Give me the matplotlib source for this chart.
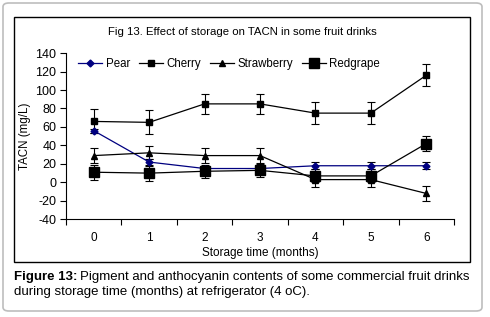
import matplotlib
matplotlib.use("Agg")
import matplotlib.pyplot as plt
from matplotlib.patches import FancyBboxPatch, Rectangle
from matplotlib.lines import Line2D

months = [0, 1, 2, 3, 4, 5, 6]
pear = [56, 22, 15, 15, 18, 18, 18]
pear_err = [2, 3, 2, 2, 4, 4, 4]
cherry = [66, 65, 85, 85, 75, 75, 116]
cherry_err = [13, 13, 11, 11, 12, 12, 12]
strawberry = [29, 32, 29, 29, 3, 3, -12]
strawberry_err = [8, 7, 8, 8, 8, 8, 8]
redgrape = [11, 10, 12, 13, 7, 7, 42]
redgrape_err = [8, 8, 7, 7, 7, 7, 8]
yticks = [-40, -20, 0, 20, 40, 60, 80, 100, 120, 140]

plt.rcParams['font.family'] = ['Liberation Sans', 'DejaVu Sans']
plt.rcParams['axes.unicode_minus'] = False

W, H = 490, 317
fig = plt.figure(figsize=(W / 100, H / 100), dpi=100)
fig.patch.set_facecolor('white')

def fx(px):
    return px / W

def fy(py):
    return 1 - py / H

# outer rounded box
fig.patches.append(FancyBboxPatch((fx(3), fy(311)), fx(479), 308 / H,
                                  boxstyle="round,pad=0,rounding_size=0.012",
                                  transform=fig.transFigure, fill=False,
                                  edgecolor='#bdbdbd', linewidth=1.2))
# inner chart frame
fig.patches.append(Rectangle((fx(14), fy(262)), fx(456), 245 / H,
                             transform=fig.transFigure, fill=False,
                             edgecolor='black', linewidth=1.0))

ax = fig.add_axes([fx(66), fy(219.3), fx(454 - 66), (219.3 - 53.1) / H])
ax.set_xlim(-0.5, 6.5)
ax.set_ylim(-40, 140)
ax.set_yticks(yticks)
ax.set_xticks(months)
ax.set_xticks([m + 0.5 for m in months[:-1]] + [-0.5, 6.5], minor=True)
ax.tick_params(axis='x', which='major', length=0, pad=9, labelsize=8.5)
ax.tick_params(axis='x', which='minor', length=4, width=0.8, direction='out')
ax.tick_params(axis='y', length=4, width=0.8, labelsize=9, pad=3)
for s in ['top', 'right']:
    ax.spines[s].set_visible(False)
for s in ['left', 'bottom']:
    ax.spines[s].set_linewidth(0.8)
ax.patch.set_alpha(0)

eb = dict(ecolor='black', elinewidth=0.8, capsize=3, capthick=0.8, lw=0.9)
ax.errorbar(months, pear, yerr=pear_err, color='#000080', marker='D', ms=3.5,
            mfc='#000080', mec='#000080', **eb)
ax.errorbar(months, cherry, yerr=cherry_err, color='black', marker='s', ms=4,
            **eb)
ax.errorbar(months, strawberry, yerr=strawberry_err, color='black', marker='^',
            ms=4.5, **eb)
ax.errorbar(months, redgrape, yerr=redgrape_err, color='black', marker='s',
            ms=7, **eb)

handles = [
    Line2D([], [], color='#000080', marker='D', ms=3.5, lw=0.9),
    Line2D([], [], color='black', marker='s', ms=4, lw=0.9),
    Line2D([], [], color='black', marker='^', ms=4.5, lw=0.9),
    Line2D([], [], color='black', marker='s', ms=7, lw=0.9),
]
fig.legend(handles, ['Pear', 'Cherry', 'Strawberry', 'Redgrape'],
           loc='center left', bbox_to_anchor=(fx(78), fy(64)), ncol=4,
           frameon=False, fontsize=8.3, handlelength=2.1, handletextpad=0.3,
           columnspacing=0.75, borderpad=0, borderaxespad=0)

fig.text(fx(242), fy(32), 'Fig 13. Effect of storage on TACN in some fruit drinks',
         ha='center', va='center', fontsize=8.2)
ax.set_ylabel('TACN (mg/L)', fontsize=8.3, labelpad=3)
fig.text(fx(260), fy(253), 'Storage time (months)', ha='center', va='center',
         fontsize=8.5)

# caption
t1 = fig.text(fx(14), fy(277), 'Figure 13:', ha='left', va='center',
              fontsize=9.5, fontweight='bold')
fig.canvas.draw()
r = fig.canvas.get_renderer()
bb = t1.get_window_extent(r)
fig.text(bb.x1 / W + fx(3), fy(277), 'Pigment and anthocyanin contents of some commercial fruit drinks',
         ha='left', va='center', fontsize=9.5)
fig.text(fx(14), fy(292), 'during storage time (months) at refrigerator (4 oC).',
         ha='left', va='center', fontsize=9.5)

fig.savefig('out.png', dpi=100)
